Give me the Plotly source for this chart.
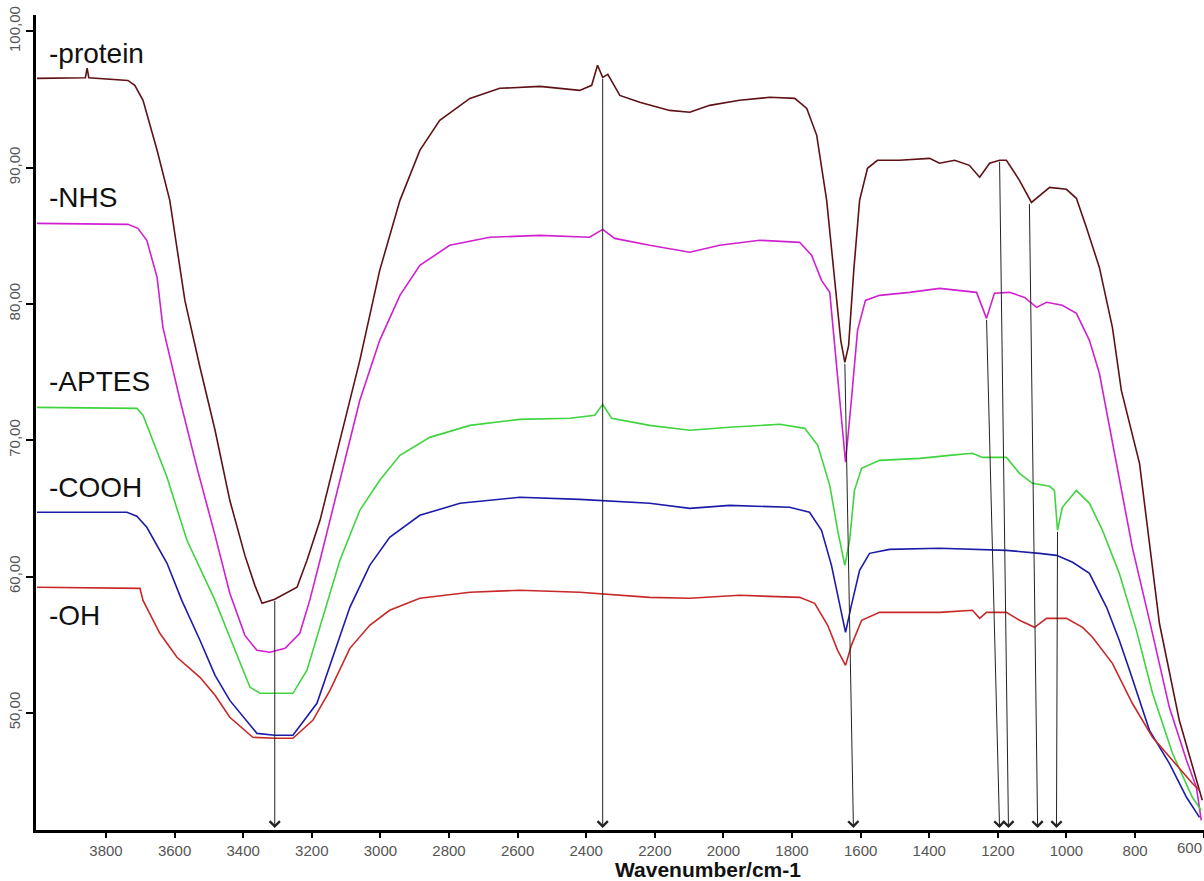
import plotly.graph_objects as go

# ---------------- data (wavenumber cm-1, %T) ----------------
protein_wn = [4001, 3860, 3855, 3850, 3736, 3716, 3692, 3651, 3614, 3570, 3526, 3482, 3439, 3395, 3366, 3345,
              3308, 3243, 3214, 3176, 3118, 3060, 3002, 2943, 2885, 2827, 2739, 2652, 2535, 2419, 2384, 2367,
              2352, 2337, 2302, 2244, 2157, 2098, 2040, 1953, 1865, 1792, 1757, 1728, 1699, 1676, 1658, 1646,
              1635, 1620, 1603, 1580, 1551, 1487, 1399, 1370, 1326, 1283, 1253, 1224, 1195, 1175, 1137, 1102,
              1049, 1000, 971, 942, 904, 866, 840, 787, 729, 671, 612, 604]
protein_t = [96.55, 96.6, 97.3, 96.6, 96.40, 96.04, 94.94, 91.27, 87.60, 80.26, 75.35, 70.73, 65.59, 61.55, 59.35, 58.03,
             58.33, 59.21, 61.19, 64.12, 69.99, 75.86, 82.46, 87.60, 91.27, 93.47, 95.08, 95.82, 95.96, 95.67, 96.04, 97.51,
             96.62, 96.85, 95.30, 94.79, 94.20, 94.06, 94.57, 94.94, 95.16, 95.08, 94.35, 92.37, 87.60, 81.73, 77.33, 75.71,
             76.96, 82.46, 87.60, 89.95, 90.54, 90.54, 90.68, 90.32, 90.54, 90.17, 89.29, 90.32, 90.54, 90.54, 89.07, 87.45,
             88.55, 88.41, 87.75, 85.62, 82.68, 78.28, 73.66, 68.30, 56.57, 49.45, 44.31, 43.58]

nhs_wn = [4001, 3736, 3707, 3681, 3651, 3634, 3584, 3535, 3482, 3439, 3395, 3360, 3322, 3278, 3235, 3206, 3176,
          3118, 3060, 3002, 2943, 2885, 2798, 2681, 2535, 2390, 2352, 2317, 2215, 2098, 2011, 1894, 1778, 1743,
          1714, 1690, 1667, 1644, 1627, 1609, 1586, 1545, 1457, 1370, 1262, 1233, 1210, 1166, 1122, 1087, 1058,
          1012, 971, 933, 904, 854, 808, 758, 700, 650, 621, 607]
nhs_t = [85.91, 85.84, 85.55, 84.67, 81.95, 78.28, 72.93, 68.01, 63.02, 58.77, 55.68, 54.58, 54.44, 54.73, 55.83, 58.25, 61.19,
         67.06, 72.93, 77.33, 80.63, 82.83, 84.30, 84.89, 85.03, 84.89, 85.47, 84.81, 84.30, 83.79, 84.30, 84.67, 84.52, 83.57,
         81.73, 80.85, 74.39, 68.38, 72.93, 78.06, 80.26, 80.63, 80.85, 81.14, 80.85, 78.94, 80.78, 80.85, 80.48, 79.75, 80.12,
         79.90, 79.31, 77.33, 74.91, 68.30, 62.14, 56.78, 50.40, 46.51, 44.53, 42.11]

aptes_wn = [4001, 3710, 3692, 3672, 3622, 3564, 3526, 3482, 3439, 3380, 3351, 3293, 3255, 3214, 3162, 3118, 3060,
            3002, 2943, 2856, 2739, 2594, 2448, 2375, 2352, 2326, 2215, 2098, 1982, 1836, 1763, 1725, 1690, 1667,
            1646, 1632, 1618, 1597, 1545, 1428, 1341, 1274, 1245, 1175, 1137, 1099, 1049, 1035, 1026, 1012, 971,
            933, 895, 846, 796, 749, 691, 633, 607]
aptes_t = [72.41, 72.34, 71.83, 70.51, 67.28, 62.66, 60.67, 58.25, 55.54, 51.87, 51.43, 51.43, 51.43, 53.12, 57.52, 61.19, 64.86,
           67.06, 68.89, 70.21, 71.09, 71.53, 71.61, 71.83, 72.63, 71.61, 71.09, 70.73, 70.95, 71.17, 70.87, 69.63, 66.69, 63.39,
           60.82, 62.66, 66.32, 67.94, 68.52, 68.67, 68.89, 69.04, 68.74, 68.74, 67.57, 66.84, 66.62, 66.32, 63.39, 65.08, 66.32,
           65.37, 63.39, 60.23, 56.05, 51.43, 47.03, 43.80, 42.84]

cooh_wn = [4001, 3739, 3710, 3681, 3622, 3579, 3526, 3482, 3439, 3360, 3308, 3255, 3185, 3133, 3089, 3031, 2973,
           2885, 2768, 2594, 2419, 2215, 2098, 1982, 1807, 1749, 1714, 1685, 1661, 1644, 1627, 1603, 1574, 1516,
           1370, 1175, 1079, 1029, 982, 933, 883, 846, 816, 758, 700, 650, 612]
cooh_t = [64.71, 64.71, 64.42, 63.61, 60.97, 58.25, 55.32, 52.75, 50.91, 48.49, 48.35, 48.35, 50.70, 54.58, 57.74, 60.82, 62.87,
          64.49, 65.37, 65.81, 65.66, 65.37, 65.00, 65.22, 65.08, 64.71, 63.39, 60.82, 57.88, 55.90, 57.88, 60.45, 61.70, 61.99,
          62.07, 61.92, 61.70, 61.55, 61.04, 60.23, 57.74, 55.32, 53.12, 48.71, 46.29, 43.80, 42.33]

oh_wn = [4001, 3701, 3692, 3643, 3593, 3526, 3482, 3439, 3372, 3308, 3255, 3197, 3147, 3089, 3031, 2973, 2885,
         2739, 2594, 2419, 2215, 2098, 1953, 1778, 1734, 1696, 1667, 1644, 1627, 1597, 1545, 1370, 1274, 1253,
         1233, 1175, 1137, 1093, 1058, 1000, 953, 924, 866, 808, 749, 691, 633, 612]
oh_t = [59.21, 59.13, 58.25, 55.83, 54.07, 52.60, 51.28, 49.67, 48.20, 48.13, 48.13, 49.45, 51.65, 54.73, 56.42, 57.52, 58.40,
        58.84, 58.99, 58.84, 58.47, 58.40, 58.62, 58.47, 58.03, 56.42, 54.58, 53.48, 54.95, 56.79, 57.37, 57.37, 57.52, 56.93,
        57.37, 57.37, 56.79, 56.27, 56.93, 56.93, 56.27, 55.54, 53.63, 50.70, 48.20, 46.51, 44.83, 44.31]

series_names = ["-protein", "-NHS", "-APTES", "-COOH", "-OH"]
series_wn = [protein_wn, nhs_wn, aptes_wn, cooh_wn, oh_wn]
series_t = [protein_t, nhs_t, aptes_t, cooh_t, oh_t]
series_colors = ["#5e1216", "#d020d0", "#3fd43f", "#1c1ca8", "#c82828"]
label_wn = 3972
label_t = [98.4, 87.8, 74.3, 66.5, 57.15]

# peak marker arrows: (tail wavenumber, tail %T, head wavenumber)
arrow_tail_wn = [3308, 2352, 1646, 1233, 1195, 1108, 1026]
arrow_tail_t = [58.33, 96.62, 75.71, 78.94, 90.54, 87.45, 63.39]
arrow_head_wn = [3308, 2352, 1621, 1195, 1169, 1084, 1029]

x_ticks = list(range(3800, 599, -200))
y_ticks = [50, 60, 70, 80, 90, 100]
x_range = [4004, 599]
y_range = [41.4, 101.2]

FONT = "Liberation Sans, Arial, sans-serif"

fig = go.Figure()
for name, wn, t, c in zip(series_names, series_wn, series_t, series_colors):
    fig.add_trace(go.Scatter(x=wn, y=t, mode="lines", name=name,
                             line=dict(color=c, width=1.6), showlegend=False))

annotations = []
for name, ly in zip(series_names, label_t):
    annotations.append(dict(x=label_wn, y=ly, xref="x", yref="y", text=name, showarrow=False,
                            xanchor="left", yanchor="middle",
                            font=dict(family=FONT, size=28, color="#111111")))

for tw, tt, hw in zip(arrow_tail_wn, arrow_tail_t, arrow_head_wn):
    annotations.append(dict(x=hw, y=y_range[0] + 0.15, xref="x", yref="y",
                            ax=tw, ay=tt, axref="x", ayref="y", text="",
                            showarrow=True, arrowhead=4, arrowsize=2.0, arrowwidth=1.0,
                            arrowcolor="#222222", standoff=0, startstandoff=0))

annotations.append(dict(x=600, y=0, xref="x", yref="paper", text="600", showarrow=False,
                        xanchor="right", yanchor="top", yshift=-7,
                        font=dict(family=FONT, size=15, color="#555555")))
annotations.append(dict(x=0.575, y=0, xref="paper", yref="paper", text="<b>Wavenumber/cm-1</b>",
                        showarrow=False, xanchor="center", yanchor="top", yshift=-26,
                        font=dict(family=FONT, size=21, color="#111111")))

fig.update_layout(
    width=1204, height=881,
    margin=dict(l=36, r=0, t=15, b=51),
    paper_bgcolor="white", plot_bgcolor="white",
    separators=", ",
    annotations=annotations,
    showlegend=False,
)
fig.update_xaxes(range=x_range, tickvals=x_ticks,
                 ticktext=[str(v) if v != 600 else "" for v in x_ticks],
                 showline=True, linecolor="black", linewidth=3,
                 ticks="outside", ticklen=5, tickwidth=1.5, tickcolor="black",
                 showgrid=False, zeroline=False,
                 tickfont=dict(family=FONT, size=15, color="#555555"))
fig.update_yaxes(range=y_range, tickvals=y_ticks, tickformat=".2f",
                 showline=True, linecolor="black", linewidth=3,
                 ticks="outside", ticklen=7, tickwidth=1.5, tickcolor="black",
                 tickangle=-90, showgrid=False, zeroline=False,
                 tickfont=dict(family=FONT, size=15, color="#555555"))

fig.write_html("out.html")
